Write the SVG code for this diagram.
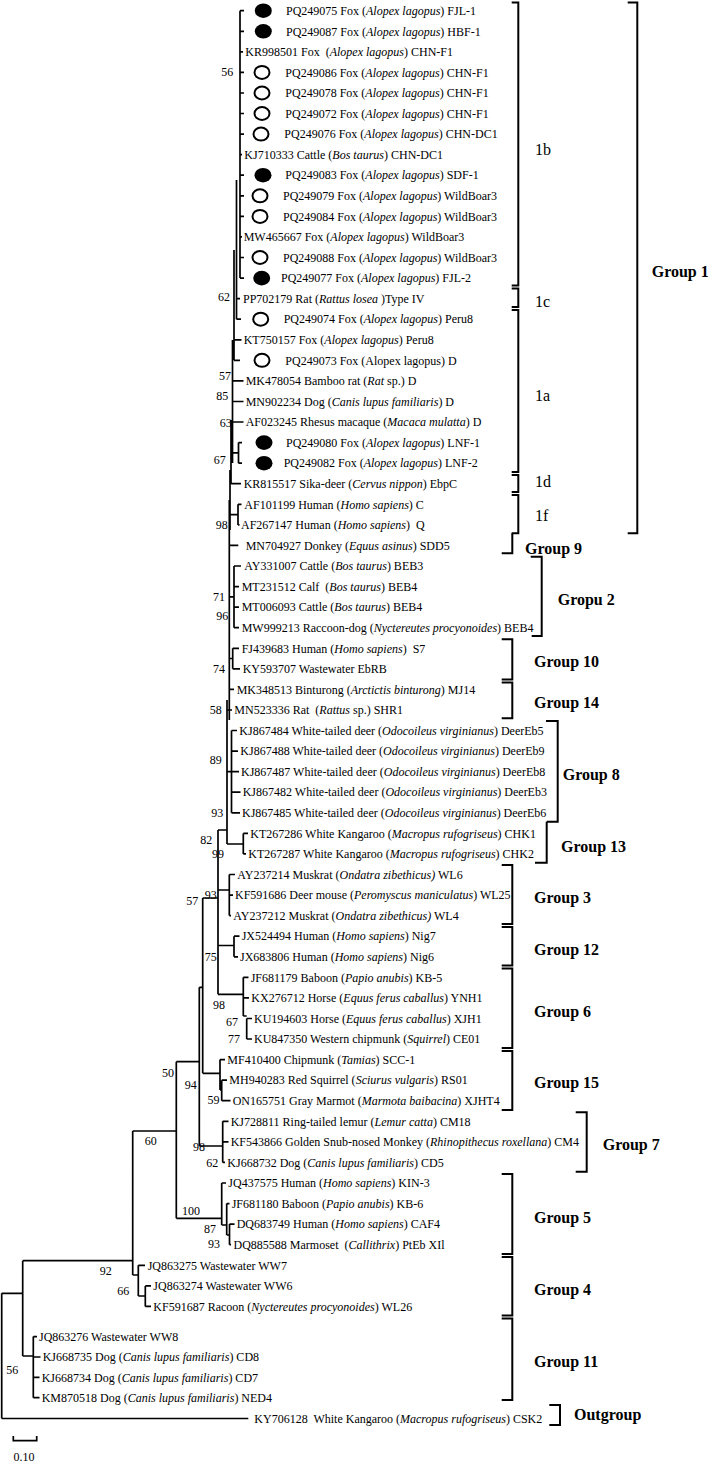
<svg xmlns="http://www.w3.org/2000/svg" width="708" height="1461" viewBox="0 0 708 1461">
<style>
text{font-family:"Liberation Serif","Times New Roman",serif;fill:#000;white-space:pre}
.t{font-size:12px}
.b{font-size:12px;text-anchor:end}
.g{font-size:16px;font-weight:bold}
.s{font-size:16px}
.tr{fill:none;stroke:#000;stroke-width:1.7}
.br{fill:none;stroke:#000;stroke-width:2}
.f{fill:#000}
.o{fill:#fff;stroke:#000;stroke-width:2}
</style>
<rect width="708" height="1461" fill="#fff"/>
<g id="connectors">
<path class="tr" d="M240,10.7V278.1M240,10.7H244M240,31.3H244M240,51.8H243M240,72.4H244M240,93H244M240,113.5H244M240,134.1H244M240,154.7H242M240,175.2H244M240,195.8H244M240,216.4H244M240,236.9H242M240,257.5H244M240,278.1H244
M236.5,180V319.2M236.5,298.6H240M236.5,319.2H241
M234,250V360.3M234,339.8H241.5M234,360.3H240
M232.5,340V463M232.5,380.9H243.5M232.5,401.5H243.5M232.5,422H243.5
M238.5,442.6V463.2M232.5,452.9H238.5M238.5,442.6H242M238.5,463.2H242
M231,420V483.7M231,483.7H241
M230,470V530M238,504.3V524.9M230,514.6H238M238,504.3H241.5M238,524.9H239.5
M229.3,500V720M229.3,545.4H238.3
M229.3,596.8H234M234,566V627.7M234,566H241M234,586.6H239M234,607.1H239M234,627.7H239
M229.3,658.5H232.7M232.7,648.3V668.8M232.7,648.3H239M232.7,668.8H240
M229.3,689.4H234
M227,700V844M227,710H232
M227,771.7H231.5M231.5,730.5V812.8M231.5,730.5H237M231.5,751.1H238M231.5,771.7H239M231.5,792.2H240.5M231.5,812.8H240
M227,844H243.3M243.3,833.4V853.9M243.3,833.4H248M243.3,853.9H246
M218,830V994.3M218,830H227M218,890H229.3M218,945.5H234M218,994.3H243.3M202.7,898H218
M229.3,874.5V915.6M229.3,874.5H235M229.3,895.1H233M229.3,915.6H231
M234,936.2V956.8M234,936.2H239.5M234,956.8H238
M243.3,977.3V1016M243.3,977.3H248.5M243.3,997.9H249M243.3,1016H246.7M246.7,1018.5V1039M246.7,1018.5H252M246.7,1039H252
M202.7,898V1073.3M202.7,1073.3H220
M199.3,987.3H202.7M199.3,987.3V1146M199.3,1146H222.7
M176.3,1061.7H199.3M176.3,1061.7V1218.3M176.3,1218.3H221.7
M220,1059.6V1090M220,1059.6H225M220,1090H221.7M221.7,1080.2V1100.7M221.7,1080.2H227M221.7,1100.7H230.5
M222.7,1121.3V1162.4M222.7,1121.3H228.5M222.7,1141.9H228.5M222.7,1162.4H225
M221.7,1183V1225M221.7,1183H226M221.7,1225H226.7M226.7,1203.6V1235M226.7,1203.6H229.5M226.7,1235H229.5M229.5,1224.1V1244.7M229.5,1224.1H234.5M229.5,1244.7H231
M132.7,1131H176.3M132.7,1131V1275M22.7,1260.7H132.7M132.7,1275H138.3M138.3,1265.3V1296M138.3,1265.3H145M138.3,1296H145.3M145.3,1285.9V1306.4M145.3,1285.9H151M145.3,1306.4H151
M22.7,1260.7V1356M22.7,1356H33.3M33.3,1336.6V1397.7M33.3,1336.6H37M33.3,1357H40.5M33.3,1377.3H39.5M33.3,1397.7H39.5
M1.7,1293.3V1418.5M1.7,1293.3H22.7M1.7,1418.5H248.3"/>
</g>
<g id="scale">
<path class="tr" d="M13.3,1436V1440.7H36.7V1436"/>
<text class="t" x="24" y="1460.5" text-anchor="middle">0.10</text>
</g>
<g id="markers">
<ellipse class="f" cx="263.3" cy="10.7" rx="8.5" ry="7.3"/>
<ellipse class="f" cx="263.3" cy="31.3" rx="8.5" ry="7.3"/>
<ellipse class="o" cx="262" cy="72.4" rx="7.5" ry="6.5"/>
<ellipse class="o" cx="262" cy="93" rx="7.5" ry="6.5"/>
<ellipse class="o" cx="262" cy="113.5" rx="7.5" ry="6.5"/>
<ellipse class="o" cx="261" cy="134.1" rx="7.5" ry="6.5"/>
<ellipse class="f" cx="263" cy="175.2" rx="8.5" ry="7.3"/>
<ellipse class="o" cx="260" cy="195.8" rx="7.5" ry="6.5"/>
<ellipse class="o" cx="260" cy="216.4" rx="7.5" ry="6.5"/>
<ellipse class="o" cx="260" cy="257.5" rx="7.5" ry="6.5"/>
<ellipse class="f" cx="261.7" cy="278.1" rx="8.5" ry="7.3"/>
<ellipse class="o" cx="260.7" cy="319.2" rx="7.5" ry="6.5"/>
<ellipse class="o" cx="262" cy="360.3" rx="7.5" ry="6.5"/>
<ellipse class="f" cx="264" cy="442.6" rx="8.5" ry="7.3"/>
<ellipse class="f" cx="264" cy="463.2" rx="8.5" ry="7.3"/>
</g>
<g id="leaves">
<text class="t" x="286" y="15">PQ249075 Fox (<tspan font-style="italic">Alopex lagopus</tspan>) FJL-1</text>
<text class="t" x="286" y="35.5">PQ249087 Fox (<tspan font-style="italic">Alopex lagopus</tspan>) HBF-1</text>
<text class="t" x="245.3" y="56">KR998501 Fox  (<tspan font-style="italic">Alopex lagopus</tspan>) CHN-F1</text>
<text class="t" x="285.3" y="76.6">PQ249086 Fox (<tspan font-style="italic">Alopex lagopus</tspan>) CHN-F1</text>
<text class="t" x="285.3" y="97.2">PQ249078 Fox (<tspan font-style="italic">Alopex lagopus</tspan>) CHN-F1</text>
<text class="t" x="285.3" y="117.7">PQ249072 Fox (<tspan font-style="italic">Alopex lagopus</tspan>) CHN-F1</text>
<text class="t" x="284.3" y="138.3">PQ249076 Fox (<tspan font-style="italic">Alopex lagopus</tspan>) CHN-DC1</text>
<text class="t" x="244.3" y="158.9">KJ710333 Cattle (<tspan font-style="italic">Bos taurus</tspan>) CHN-DC1</text>
<text class="t" x="285.3" y="179.4">PQ249083 Fox (<tspan font-style="italic">Alopex lagopus</tspan>) SDF-1</text>
<text class="t" x="283" y="200">PQ249079 Fox (<tspan font-style="italic">Alopex lagopus</tspan>) WildBoar3</text>
<text class="t" x="283" y="220.6">PQ249084 Fox (<tspan font-style="italic">Alopex lagopus</tspan>) WildBoar3</text>
<text class="t" x="243.7" y="241.1">MW465667 Fox (<tspan font-style="italic">Alopex lagopus</tspan>) WildBoar3</text>
<text class="t" x="283" y="261.7">PQ249088 Fox (<tspan font-style="italic">Alopex lagopus</tspan>) WildBoar3</text>
<text class="t" x="281" y="282.3">PQ249077 Fox (<tspan font-style="italic">Alopex lagopus</tspan>) FJL-2</text>
<text class="t" x="243" y="302.8">PP702179 Rat (<tspan font-style="italic">Rattus losea </tspan>)Type IV</text>
<text class="t" x="283.7" y="323.4">PQ249074 Fox (<tspan font-style="italic">Alopex lagopus</tspan>) Peru8</text>
<text class="t" x="243.7" y="344">KT750157 Fox (<tspan font-style="italic">Alopex lagopus</tspan>) Peru8</text>
<text class="t" x="285.3" y="364.5">PQ249073 Fox (Alopex lagopus) D</text>
<text class="t" x="245.7" y="385.1">MK478054 Bamboo rat (<tspan font-style="italic">Rat</tspan> sp.) D</text>
<text class="t" x="245.7" y="405.7">MN902234 Dog (<tspan font-style="italic">Canis lupus familiaris</tspan>) D</text>
<text class="t" x="245.7" y="426.2">AF023245 Rhesus macaque (<tspan font-style="italic">Macaca mulatta</tspan>) D</text>
<text class="t" x="286" y="446.8">PQ249080 Fox (<tspan font-style="italic">Alopex lagopus</tspan>) LNF-1</text>
<text class="t" x="283.7" y="467.4">PQ249082 Fox (<tspan font-style="italic">Alopex lagopus</tspan>) LNF-2</text>
<text class="t" x="243.7" y="487.9">KR815517 Sika-deer (<tspan font-style="italic">Cervus nippon</tspan>) EbpC</text>
<text class="t" x="244.3" y="508.5">AF101199 Human (<tspan font-style="italic">Homo sapiens</tspan>) C</text>
<text class="t" x="241" y="529.1">AF267147 Human (<tspan font-style="italic">Homo sapiens</tspan>)  Q</text>
<text class="t" x="245.7" y="549.6">MN704927 Donkey (<tspan font-style="italic">Equus asinus</tspan>) SDD5</text>
<text class="t" x="244.3" y="570.2">AY331007 Cattle (<tspan font-style="italic">Bos taurus</tspan>) BEB3</text>
<text class="t" x="241.7" y="590.8">MT231512 Calf  (<tspan font-style="italic">Bos taurus</tspan>) BEB4</text>
<text class="t" x="241.7" y="611.3">MT006093 Cattle (<tspan font-style="italic">Bos taurus</tspan>) BEB4</text>
<text class="t" x="241.7" y="631.9">MW999213 Raccoon-dog (<tspan font-style="italic">Nyctereutes procyonoides</tspan>) BEB4</text>
<text class="t" x="241.7" y="652.5">FJ439683 Human (<tspan font-style="italic">Homo sapiens</tspan>)  S7</text>
<text class="t" x="242.7" y="673">KY593707 Wastewater EbRB</text>
<text class="t" x="236.7" y="693.6">MK348513 Binturong (<tspan font-style="italic">Arctictis binturong</tspan>) MJ14</text>
<text class="t" x="234.3" y="714.2">MN523336 Rat  (<tspan font-style="italic">Rattus</tspan> sp.) SHR1</text>
<text class="t" x="239.3" y="734.7">KJ867484 White-tailed deer (<tspan font-style="italic">Odocoileus virginianus</tspan>) DeerEb5</text>
<text class="t" x="240.3" y="755.3">KJ867488 White-tailed deer (<tspan font-style="italic">Odocoileus virginianus</tspan>) DeerEb9</text>
<text class="t" x="241" y="775.9">KJ867487 White-tailed deer (<tspan font-style="italic">Odocoileus virginianus</tspan>) DeerEb8</text>
<text class="t" x="242.7" y="796.4">KJ867482 White-tailed deer (<tspan font-style="italic">Odocoileus virginianus</tspan>) DeerEb3</text>
<text class="t" x="242" y="817">KJ867485 White-tailed deer (<tspan font-style="italic">Odocoileus virginianus</tspan>) DeerEb6</text>
<text class="t" x="250.3" y="837.6">KT267286 White Kangaroo (<tspan font-style="italic">Macropus rufogriseus</tspan>) CHK1</text>
<text class="t" x="248.3" y="858.1">KT267287 White Kangaroo (<tspan font-style="italic">Macropus rufogriseus</tspan>) CHK2</text>
<text class="t" x="237.3" y="878.7">AY237214 Muskrat (<tspan font-style="italic">Ondatra zibethicus)</tspan> WL6</text>
<text class="t" x="235" y="899.3">KF591686 Deer mouse (<tspan font-style="italic">Peromyscus maniculatus</tspan>) WL25</text>
<text class="t" x="233.3" y="919.8">AY237212 Muskrat (<tspan font-style="italic">Ondatra zibethicus)</tspan> WL4</text>
<text class="t" x="241.7" y="940.4">JX524494 Human (<tspan font-style="italic">Homo sapiens</tspan>) Nig7</text>
<text class="t" x="240" y="961">JX683806 Human (<tspan font-style="italic">Homo sapiens</tspan>) Nig6</text>
<text class="t" x="250.7" y="981.5">JF681179 Baboon (<tspan font-style="italic">Papio anubis</tspan>) KB-5</text>
<text class="t" x="251.3" y="1002.1">KX276712 Horse (<tspan font-style="italic">Equus ferus caballus</tspan>) YNH1</text>
<text class="t" x="254" y="1022.7">KU194603 Horse (<tspan font-style="italic">Equus ferus caballus</tspan>) XJH1</text>
<text class="t" x="254" y="1043.2">KU847350 Western chipmunk (<tspan font-style="italic">Squirrel</tspan>) CE01</text>
<text class="t" x="227.3" y="1063.8">MF410400 Chipmunk (<tspan font-style="italic">Tamias</tspan>) SCC-1</text>
<text class="t" x="229.3" y="1084.4">MH940283 Red Squirrel (<tspan font-style="italic">Sciurus vulgaris</tspan>) RS01</text>
<text class="t" x="232.7" y="1104.9">ON165751 Gray Marmot (<tspan font-style="italic">Marmota baibacina</tspan>) XJHT4</text>
<text class="t" x="230.7" y="1125.5">KJ728811 Ring-tailed lemur (<tspan font-style="italic">Lemur catta</tspan>) CM18</text>
<text class="t" x="230.7" y="1146.1">KF543866 Golden Snub-nosed Monkey (<tspan font-style="italic">Rhinopithecus roxellana</tspan>) CM4</text>
<text class="t" x="227.3" y="1166.6">KJ668732 Dog (<tspan font-style="italic">Canis lupus familiaris</tspan>) CD5</text>
<text class="t" x="228.3" y="1187.2">JQ437575 Human (<tspan font-style="italic">Homo sapiens</tspan>) KIN-3</text>
<text class="t" x="231.7" y="1207.8">JF681180 Baboon (<tspan font-style="italic">Papio anubis</tspan>) KB-6</text>
<text class="t" x="236.7" y="1228.3">DQ683749 Human (<tspan font-style="italic">Homo sapiens</tspan>) CAF4</text>
<text class="t" x="233.5" y="1248.9">DQ885588 Marmoset  (<tspan font-style="italic">Callithrix</tspan>) PtEb XIl</text>
<text class="t" x="147.7" y="1269.5">JQ863275 Wastewater WW7</text>
<text class="t" x="153.3" y="1290.1">JQ863274 Wastewater WW6</text>
<text class="t" x="153.3" y="1310.6">KF591687 Racoon (<tspan font-style="italic">Nyctereutes procyonoides</tspan>) WL26</text>
<text class="t" x="39" y="1340.8">JQ863276 Wastewater WW8</text>
<text class="t" x="42.7" y="1361.2">KJ668735 Dog (<tspan font-style="italic">Canis lupus familiaris</tspan>) CD8</text>
<text class="t" x="41.7" y="1381.5">KJ668734 Dog (<tspan font-style="italic">Canis lupus familiaris</tspan>) CD7</text>
<text class="t" x="41.7" y="1401.9">KM870518 Dog (<tspan font-style="italic">Canis lupus familiaris</tspan>) NED4</text>
<text class="t" x="254.3" y="1422.7">KY706128  White Kangaroo (<tspan font-style="italic">Macropus rufogriseus</tspan>) CSK2</text>
</g>
<g id="bootstrap">
<text class="b" x="233.3" y="76">56</text>
<text class="b" x="230" y="301">62</text>
<text class="b" x="231" y="380">57</text>
<text class="b" x="228.3" y="399.5">85</text>
<text class="b" x="231.7" y="427">63</text>
<text class="b" x="225.7" y="464">67</text>
<text class="b" x="227.7" y="528.5">98</text>
<text class="b" x="225" y="601">71</text>
<text class="b" x="228.3" y="620">96</text>
<text class="b" x="225" y="672.5">74</text>
<text class="b" x="221.7" y="714">58</text>
<text class="b" x="221.7" y="764">89</text>
<text class="b" x="223.3" y="816.5">93</text>
<text class="b" x="212.3" y="844">82</text>
<text class="b" x="224" y="857.5">99</text>
<text class="b" x="216.7" y="898.5">93</text>
<text class="b" x="198.3" y="905">57</text>
<text class="b" x="216.7" y="961">75</text>
<text class="b" x="225" y="1008.5">98</text>
<text class="b" x="238" y="1026">67</text>
<text class="b" x="240" y="1043">77</text>
<text class="b" x="174" y="1077">50</text>
<text class="b" x="196.7" y="1089">94</text>
<text class="b" x="219.5" y="1104">59</text>
<text class="b" x="156.7" y="1145">60</text>
<text class="b" x="205" y="1151">98</text>
<text class="b" x="218.3" y="1167">62</text>
<text class="b" x="200" y="1215">100</text>
<text class="b" x="216" y="1232.5">87</text>
<text class="b" x="220" y="1248">93</text>
<text class="b" x="111.7" y="1275">92</text>
<text class="b" x="129.3" y="1295">66</text>
<text class="b" x="18.3" y="1374">56</text>
</g>
<g id="group1">
<path class="br" d="M627.7,2.5H637.3V533.3H627.7"/>
<text class="g" x="651.7" y="277">Group 1</text>
</g>
<g id="sub1b">
<path class="br" d="M511.7,2.5H518.3V285.5H511.7"/>
<text class="s" x="535" y="155">1b</text>
</g>
<g id="sub1c">
<path class="br" d="M511.7,288.5H518.3V307H511.7"/>
<text class="s" x="535" y="307">1c</text>
</g>
<g id="sub1a">
<path class="br" d="M511.7,310H518.3V472H511.7"/>
<text class="s" x="535" y="400.5">1a</text>
</g>
<g id="sub1d">
<path class="br" d="M511.7,475H518.3V492H511.7"/>
<text class="s" x="535" y="487">1d</text>
</g>
<g id="sub1f">
<path class="br" d="M511.7,495H518.3V533.3H511.7"/>
<text class="s" x="535" y="520.5">1f</text>
</g>
<g id="group9">
<path class="br" d="M512.3,533.3V553.3H501.7"/>
<text class="g" x="525" y="553.5">Group 9</text>
</g>
<g id="group2">
<path class="br" d="M530.7,556.7H541.7V636H531.7"/>
<text class="g" x="557.7" y="604.5">Gropu 2</text>
</g>
<g id="group10">
<path class="br" d="M501.7,639.3H512.3V679.5H501.7"/>
<text class="g" x="534" y="667">Group 10</text>
</g>
<g id="group14">
<path class="br" d="M501.7,682.5H512.3V718.3H501.7"/>
<text class="g" x="534" y="708">Group 14</text>
</g>
<g id="group8">
<path class="br" d="M546,721H557.7V821.7H546.7"/>
<text class="g" x="562.7" y="780">Group 8</text>
</g>
<g id="group13">
<path class="br" d="M546.7,821.7V862.7H535"/>
<text class="g" x="561" y="852">Group 13</text>
</g>
<g id="group3">
<path class="br" d="M501.7,865H512.3V924H501.7"/>
<text class="g" x="534" y="903">Group 3</text>
</g>
<g id="group12">
<path class="br" d="M501.7,927H512.3V965.5H501.7"/>
<text class="g" x="534" y="954.5">Group 12</text>
</g>
<g id="group6">
<path class="br" d="M501.7,968.5H512.3V1048H501.7"/>
<text class="g" x="534" y="1017">Group 6</text>
</g>
<g id="group15">
<path class="br" d="M501.7,1051H512.3V1110H501.7"/>
<text class="g" x="534" y="1088">Group 15</text>
</g>
<g id="group7">
<path class="br" d="M575.7,1112.3H586.7V1171.7H575.7"/>
<text class="g" x="602.7" y="1150">Group 7</text>
</g>
<g id="group5">
<path class="br" d="M501.7,1174H512.3V1254H501.7"/>
<text class="g" x="534" y="1222.5">Group 5</text>
</g>
<g id="group4">
<path class="br" d="M501.7,1257H512.3V1315.5H501.7"/>
<text class="g" x="534" y="1294.5">Group 4</text>
</g>
<g id="group11">
<path class="br" d="M501.7,1318.5H512.3V1400H501.7"/>
<text class="g" x="534" y="1367">Group 11</text>
</g>
<g id="outgroup">
<path class="br" d="M549.3,1405H560V1425H549.3"/>
<text class="g" x="574" y="1420">Outgroup</text>
</g>
</svg>
